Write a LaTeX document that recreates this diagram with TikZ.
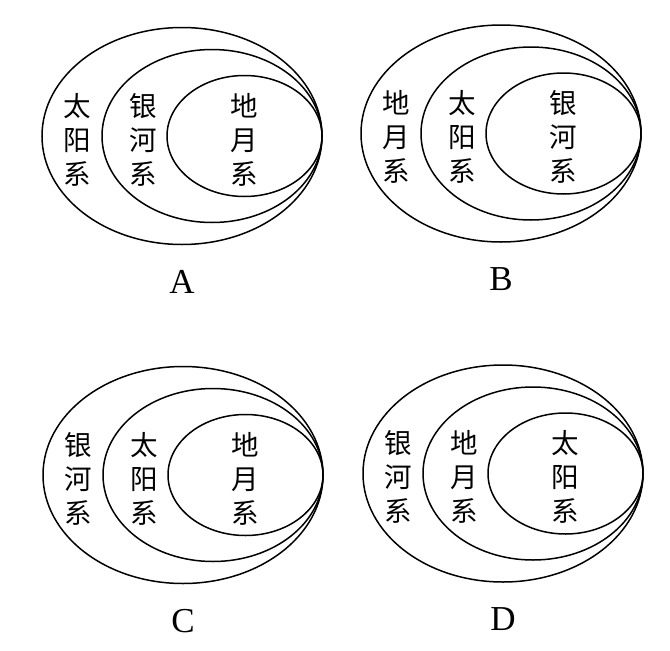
\documentclass[tikz,border=0pt]{standalone}
\usepackage{fontspec}
\newfontfamily\cjk{Noto Sans CJK SC}
\newfontfamily\latinserif{Liberation Serif}
\tikzset{
  ring/.style={draw=black, line width=1.5pt},
  vlabel/.style={inner sep=0pt, align=center, font=\cjk\fontsize{27.5}{34}\selectfont},
  optlabel/.style={inner sep=0pt, font=\latinserif\fontsize{35}{35}\selectfont},
}
% #1 name, #2 tangent x, #3 centre y, #4 letter, #5 outer, #6 middle, #7 inner
\newcommand\vennpanel[7]{%
  \draw[ring] (#2-140,#3) ellipse [x radius=140, y radius=108.5];
  \draw[ring] (#2-110,#3) ellipse [x radius=110, y radius=86.5];
  \draw[ring] (#2-77.5,#3) ellipse [x radius=77.5, y radius=60.5];
  \node[vlabel] (#1-outer) at (#2-245,#3+3.5) {#5};
  \node[vlabel] (#1-middle) at (#2-179,#3+3.5) {#6};
  \node[vlabel] (#1-inner) at (#2-78,#3+3.5) {#7};
  \node[optlabel] (#1-letter) at (#2-140,#3+146) {#4};
}
\begin{document}
\begin{tikzpicture}[x=1pt,y=-1pt]
\useasboundingbox (0,0) rectangle (670,651);
\vennpanel{A}{322}{136}{A}{太\\阳\\系}{银\\河\\系}{地\\月\\系}
\vennpanel{B}{641}{133.5}{B}{地\\月\\系}{太\\阳\\系}{银\\河\\系}
\vennpanel{C}{323}{475}{C}{银\\河\\系}{太\\阳\\系}{地\\月\\系}
\vennpanel{D}{643}{473.5}{D}{银\\河\\系}{地\\月\\系}{太\\阳\\系}
\end{tikzpicture}
\end{document}
